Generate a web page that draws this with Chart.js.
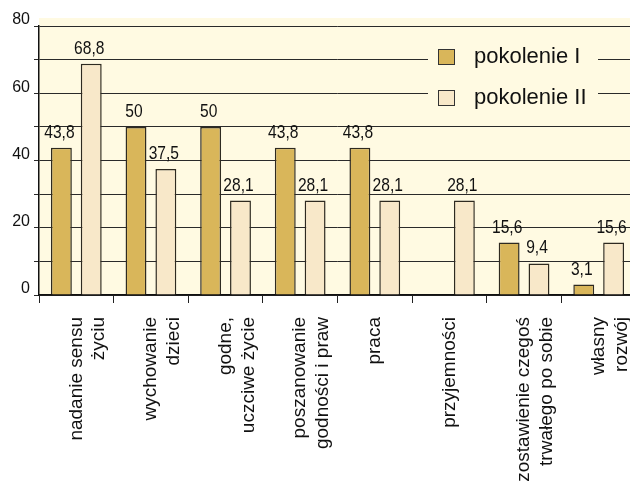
<!DOCTYPE html>
<html>
<head>
<meta charset="utf-8">
<script src="https://cdn.jsdelivr.net/npm/chart.js@4"></script>
<style>
  html, body { margin: 0; padding: 0; background: #fff; overflow: hidden; }
  #wrap { width: 640px; height: 486px; }
</style>
</head>
<body>
<div id="wrap"><canvas id="chart" width="640" height="486"></canvas></div>
<script>
// data
var categories = [
    ['nadanie sensu', 'życiu'],
    ['wychowanie', 'dzieci'],
    ['godne,', 'uczciwe życie'],
    ['poszanowanie', 'godności i praw'],
    ['praca', ''],
    ['przyjemności', ''],
    ['zostawienie czegoś', 'trwałego po sobie'],
    ['własny', 'rozwój']
];
var seriesNames = ['pokolenie I', 'pokolenie II'];
var pokolenie1 = [43.8, 50, 50, 43.8, 43.8, null, 15.6, 3.1];
var pokolenie2 = [68.8, 37.5, 28.1, 28.1, 28.1, 28.1, 9.4, 15.6];
var yTicks = [0, 20, 40, 60, 80];

var colors = ['#d9b65a', '#f8e8c9'];
var font = "'Liberation Sans', Arial, sans-serif";

// plot background (cream), a bit taller than the axis
var bgPlugin = {
    id: 'bg',
    beforeDraw: function (chart) {
        var c = chart.ctx, a = chart.chartArea;
        c.save();
        c.fillStyle = '#ffffff';
        c.fillRect(0, 0, chart.width, chart.height);
        c.fillStyle = '#fffae2';
        c.fillRect(a.left, a.top - 8, a.right - a.left, a.bottom - a.top + 8);
        c.restore();
    }
};

// value labels above the bars, decimal comma, slightly condensed
var valuePlugin = {
    id: 'values',
    afterDatasetsDraw: function (chart) {
        var c = chart.ctx;
        var sx = 0.82;
        c.save();
        c.font = '19px ' + font;
        c.fillStyle = '#111';
        c.textAlign = 'center';
        c.textBaseline = 'alphabetic';
        c.scale(sx, 1);
        chart.data.datasets.forEach(function (ds, i) {
            var meta = chart.getDatasetMeta(i);
            meta.data.forEach(function (bar, j) {
                var v = ds.data[j];
                if (v === null) return;
                c.fillText(String(v).replace('.', ','), (bar.x - 2) / sx, bar.y - 10);
            });
        });
        c.restore();
    }
};

// legend sitting inside the plot, covering the grid lines
var legendPlugin = {
    id: 'innerLegend',
    afterDatasetsDraw: function (chart) {
        var c = chart.ctx;
        c.save();
        c.fillStyle = '#fffae2';
        c.fillRect(428, 36, 170, 76);
        c.font = '22px ' + font;
        c.textBaseline = 'middle';
        c.textAlign = 'left';
        var ys = [57, 98];
        seriesNames.forEach(function (name, i) {
            c.fillStyle = colors[i];
            c.fillRect(438, ys[i] - 8, 17, 16);
            c.strokeStyle = '#333';
            c.lineWidth = 1;
            c.strokeRect(438.5, ys[i] - 7.5, 16, 15);
            c.fillStyle = '#111';
            c.fillText(name, 474, ys[i]);
        });
        c.restore();
    }
};

var ctx = document.getElementById('chart').getContext('2d');
var chart = new Chart(ctx, {
    type: 'bar',
    data: {
        labels: categories,
        datasets: [{
            label: seriesNames[0],
            data: pokolenie1,
            backgroundColor: colors[0],
            borderColor: '#2e2a20',
            borderWidth: 1.5,
            categoryPercentage: 0.8,
            barPercentage: 0.7
        }, {
            label: seriesNames[1],
            data: pokolenie2,
            backgroundColor: colors[1],
            borderColor: '#2e2a20',
            borderWidth: 1.5,
            categoryPercentage: 0.8,
            barPercentage: 0.7
        }]
    },
    options: {
        responsive: false,
        animation: false,
        layout: { padding: { top: 26, right: 4, left: 0, bottom: 0 } },
        plugins: {
            legend: { display: false },
            tooltip: { enabled: false }
        },
        scales: {
            x: {
                grid: { display: true, drawOnChartArea: false, drawTicks: true, tickLength: 8, color: '#222', offset: true },
                border: { display: true, color: '#111', width: 1.5 },
                ticks: {
                    autoSkip: false,
                    minRotation: 90,
                    maxRotation: 90,
                    padding: 14,
                    color: '#111',
                    font: { family: font, size: 19, lineHeight: 1.2 }
                },
                afterFit: function (scale) {
                    scale.height = 486 - 295;
                    scale.paddingLeft = 0;
                    scale.paddingRight = 0;
                }
            },
            y: {
                min: 0,
                max: 80,
                grid: { color: '#2a2a2a', lineWidth: 1, tickLength: 5 },
                border: { display: true, color: '#111', width: 1.5 },
                ticks: {
                    stepSize: 10,
                    padding: 4,
                    labelOffset: -6,
                    color: '#111',
                    font: { family: font, size: 16 },
                    callback: function (v) { return yTicks.indexOf(v) >= 0 ? v : ''; }
                },
                afterFit: function (scale) { scale.width = 39; }
            }
        }
    },
    plugins: [bgPlugin, valuePlugin, legendPlugin]
});
</script>
</body>
</html>
